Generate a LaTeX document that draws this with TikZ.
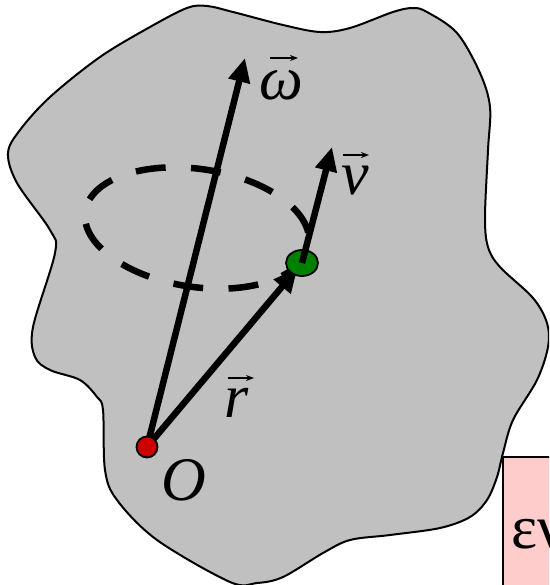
\documentclass[tikz,border=0pt]{standalone}
\usepackage{fontspec}
\newfontfamily\labelfont[Extension=.ttf,UprightFont=LiberationSerif-Regular,ItalicFont=LiberationSerif-Italic]{LiberationSerif}
\usetikzlibrary{arrows.meta,shapes.geometric}
\definecolor{blobgray}{RGB}{192,192,192}
\definecolor{dotred}{RGB}{204,0,0}
\definecolor{dotgreen}{RGB}{0,128,0}
\definecolor{boxpink}{RGB}{255,204,204}
\begin{document}
\begin{tikzpicture}[x=1pt,y=-1pt,
  vecarrow/.style={line width=6.5pt,-{Triangle[length=24pt,width=21pt]}},
  accentarrow/.style={line width=1.4pt,-{Stealth[length=8pt,width=6pt]}},
  dotnode/.style={draw=black,line width=1.8pt,inner sep=0pt},
  lbl/.style={inner sep=0pt,anchor=base,font=\labelfont\fontsize{62}{62}\selectfont\itshape},
  orbit/.style={line width=6.5pt,dash pattern=on 30pt off 25.4pt,dash phase=42.7pt}]
\useasboundingbox (0,0) rectangle (549,585);
\clip (0,0) rectangle (549,585);
% body
\draw[fill=blobgray,line width=2pt] plot[smooth cycle,tension=0.55] coordinates {
 (8,153) (20,130) (50,97) (100,57) (150,27) (187,8) (207,6) (233,12) (283,25)
 (320,32) (350,28) (393,12) (413,8) (427,12) (457,33) (480,73) (490,107)
 (488,150) (485,217) (488,247) (500,267) (533,298) (547,323) (548,347)
 (537,380) (513,420) (503,453) (497,477) (487,500) (470,517) (440,528)
 (390,535) (350,540) (323,553) (283,577) (257,583) (230,582) (157,540)
 (117,500) (105,470) (103,410) (97,397) (80,380) (50,370) (35,357) (33,327)
 (55,253) (50,230) (17,183)};
% orbit
\draw[orbit,rotate around={-8.5:(197,228)}] (197,228) ellipse [x radius=113, y radius=59];
% points
\coordinate (o) at (147,447);
\coordinate (p) at (302,263);
\coordinate (wtip) at (245,58);
\coordinate (vtip) at (332,147);
\draw[vecarrow] (o) -- (wtip);
\draw[vecarrow,shorten >=7pt] (o) -- (p);
\node[dotnode,ellipse,fill=dotgreen,minimum width=32pt,minimum height=26pt] (P) at (p) {};
\draw[vecarrow] (P.center) -- (vtip);
\node[dotnode,circle,fill=dotred,minimum size=21pt] (O) at (o) {};
% labels
\node[lbl] (lw) at (281,100) {ω};
\node[lbl] (lv) at (355,195) {v};
\node[lbl] (lr) at (237,417) {r};
\node[lbl] (lO) at (184,500) {O};
\draw[accentarrow] (270,58) -- (298,58);
\draw[accentarrow] (343,155) -- (369,155);
\draw[accentarrow] (228,378) -- (254,378);
% box
\draw[fill=boxpink,line width=2pt] (503,457) rectangle (600,620);
\node[inner sep=0pt,anchor=base west,font=\labelfont\fontsize{62}{62}\selectfont] (eb) at (511,548) {εν};
\end{tikzpicture}
\end{document}
